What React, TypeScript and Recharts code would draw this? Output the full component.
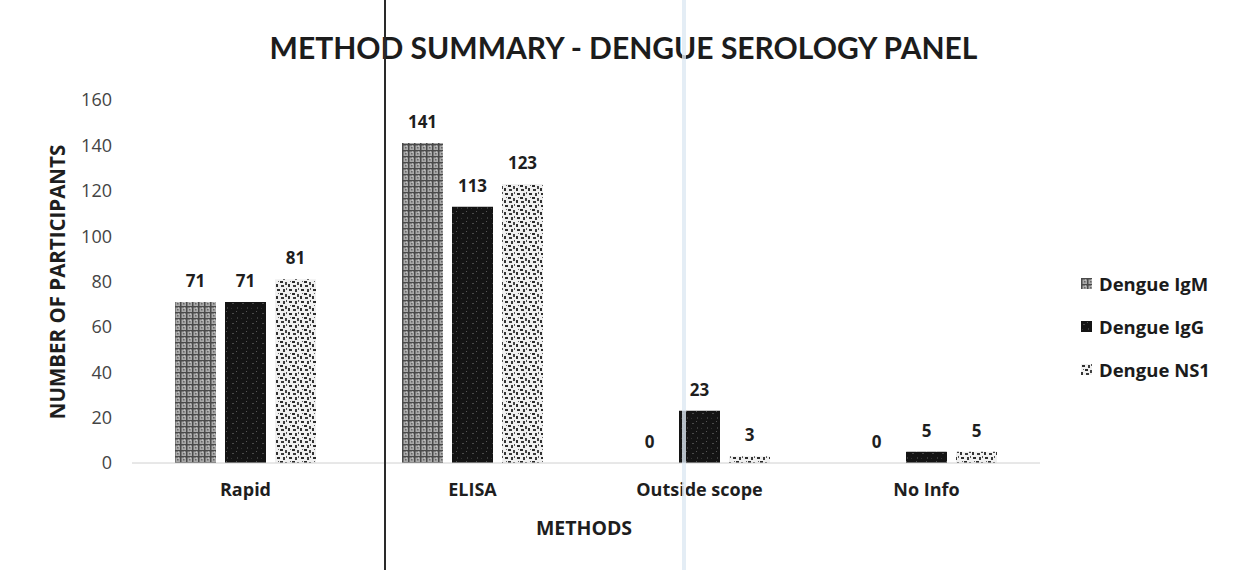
import React from "react";
import { BarChart, Bar, XAxis, YAxis, LabelList } from "recharts";

const categories = ["Rapid", "ELISA", "Outside scope", "No Info"];
const igmValues = [71, 141, 0, 0];
const iggValues = [71, 113, 23, 5];
const ns1Values = [81, 123, 3, 5];
const yTicks = [0, 20, 40, 60, 80, 100, 120, 140, 160];
const seriesNames = ["Dengue IgM", "Dengue IgG", "Dengue NS1"];

const data = categories.map((c, i) => ({
  name: c,
  igm: igmValues[i],
  igg: iggValues[i],
  ns1: ns1Values[i],
}));

const TITLE_FONT = "Lato, 'Open Sans', sans-serif";
const FONT = "'Open Sans', Lato, sans-serif";

const Patterns = () => (
  <svg width={0} height={0} style={{ position: "absolute" }}>
    <defs>
      <pattern id="patIgm" width="6" height="6" patternUnits="userSpaceOnUse">
        <rect width="6" height="6" fill="#a9a9a9" />
        <rect x="0" y="0" width="6" height="1.5" fill="#4a4a4a" />
        <rect x="0" y="0" width="1.5" height="6" fill="#4a4a4a" />
        <rect x="3" y="3" width="1.5" height="1.5" fill="#666" />
        <rect x="4" y="1.5" width="1" height="1" fill="#d8d8d8" />
      </pattern>
      <pattern id="patIgg" width="10" height="10" patternUnits="userSpaceOnUse">
        <rect width="10" height="10" fill="#141414" />
        <rect x="2" y="3" width="2" height="1" fill="#4a4a4a" />
        <rect x="7" y="7" width="1" height="2" fill="#3c3c3c" />
        <rect x="6" y="1" width="1" height="1" fill="#555" />
        <rect x="1" y="8" width="1" height="1" fill="#333" />
      </pattern>
      <pattern id="patNs1" width="12" height="12" patternUnits="userSpaceOnUse">
        <rect width="12" height="12" fill="#f0f0f0" />
        <rect x="1" y="1" width="3" height="2" fill="#2e2e2e" />
        <rect x="7" y="1" width="2" height="3" fill="#3a3a3a" />
        <rect x="4" y="5" width="3" height="2" fill="#2a2a2a" />
        <rect x="9" y="6" width="2" height="3" fill="#444" />
        <rect x="0" y="8" width="2" height="3" fill="#333" />
        <rect x="5" y="9" width="3" height="2" fill="#3a3a3a" />
        <rect x="10" y="0" width="1" height="2" fill="#555" />
        <rect x="2" y="5" width="1" height="1" fill="#666" />
      </pattern>
    </defs>
  </svg>
);

const fills = ["url(#patIgm)", "url(#patIgg)", "url(#patNs1)"];

const labelStyle = { fontFamily: FONT, fontSize: 17, fontWeight: 700, fill: "#1e1e1e" };

export default function App() {
  return (
    <div
      style={{
        position: "relative",
        width: 1237,
        height: 570,
        background: "#ffffff",
        overflow: "hidden",
      }}
    >
      <style>{`body{margin:0}`}</style>
      <Patterns />
      <div
        style={{
          position: "absolute",
          top: 29,
          left: 0,
          width: 1247,
          textAlign: "center",
          fontFamily: TITLE_FONT,
          fontWeight: 700,
          fontSize: 30,
          lineHeight: "36px",
          color: "#1c1c1c",
        }}
      >
        METHOD SUMMARY - DENGUE SEROLOGY PANEL
      </div>
      <BarChart
        width={1237}
        height={570}
        data={data}
        margin={{ top: 100, right: 197, bottom: 0, left: 0 }}
        barSize={41}
        barGap={9}
      >
        <XAxis
          dataKey="name"
          height={107}
          axisLine={{ stroke: "#d0d0d0" }}
          tickLine={false}
          tickMargin={14}
          tick={{ fontFamily: FONT, fontSize: 18, fontWeight: 700, fill: "#1e1e1e" }}
          label={{
            content: () => (
              <text
                x={584}
                y={527}
                textAnchor="middle"
                dominantBaseline="central"
                style={{ fontFamily: FONT, fontSize: 19.5, fontWeight: 700, fill: "#1e1e1e" }}
              >
                METHODS
              </text>
            ),
          }}
        />
        <YAxis
          width={132}
          domain={[0, 160]}
          ticks={yTicks}
          axisLine={false}
          tickLine={false}
          tickSize={0}
          tickMargin={20}
          tick={{ fontFamily: FONT, fontSize: 18, fill: "#444" }}
          label={{
            content: () => (
              <text
                transform="translate(57,282) rotate(-90)"
                textAnchor="middle"
                dominantBaseline="central"
                style={{ fontFamily: FONT, fontSize: 20.5, fontWeight: 700, fill: "#1e1e1e" }}
              >
                NUMBER OF PARTICIPANTS
              </text>
            ),
          }}
        />
        <Bar dataKey="igm" name={seriesNames[0]} fill={fills[0]} minPointSize={0.1} isAnimationActive={false}>
          <LabelList dataKey="igm" position="top" offset={15} style={labelStyle} />
        </Bar>
        <Bar dataKey="igg" name={seriesNames[1]} fill={fills[1]} isAnimationActive={false}>
          <LabelList dataKey="igg" position="top" offset={15} style={labelStyle} />
        </Bar>
        <Bar dataKey="ns1" name={seriesNames[2]} fill={fills[2]} isAnimationActive={false}>
          <LabelList dataKey="ns1" position="top" offset={15} style={labelStyle} />
        </Bar>
      </BarChart>
      <div
        style={{
          position: "absolute",
          left: 1081,
          top: 262,
          width: 156,
          fontFamily: FONT,
        }}
      >
        {seriesNames.map((n, i) => (
          <div key={n} style={{ display: "flex", alignItems: "center", height: 43 }}>
            <svg width={11} height={11} style={{ marginRight: 7 }}>
              <rect width={11} height={11} fill={fills[i]} />
            </svg>
            <span style={{ fontSize: 18.5, fontWeight: 700, color: "#1b1b1b" }}>{n}</span>
          </div>
        ))}
      </div>
      <div
        style={{
          position: "absolute",
          left: 384,
          top: 0,
          width: 2,
          height: 570,
          background: "#2a2a2a",
        }}
      />
      <div
        style={{
          position: "absolute",
          left: 682,
          top: 0,
          width: 4,
          height: 570,
          background: "#dde9f2",
          opacity: 0.8,
        }}
      />
    </div>
  );
}
